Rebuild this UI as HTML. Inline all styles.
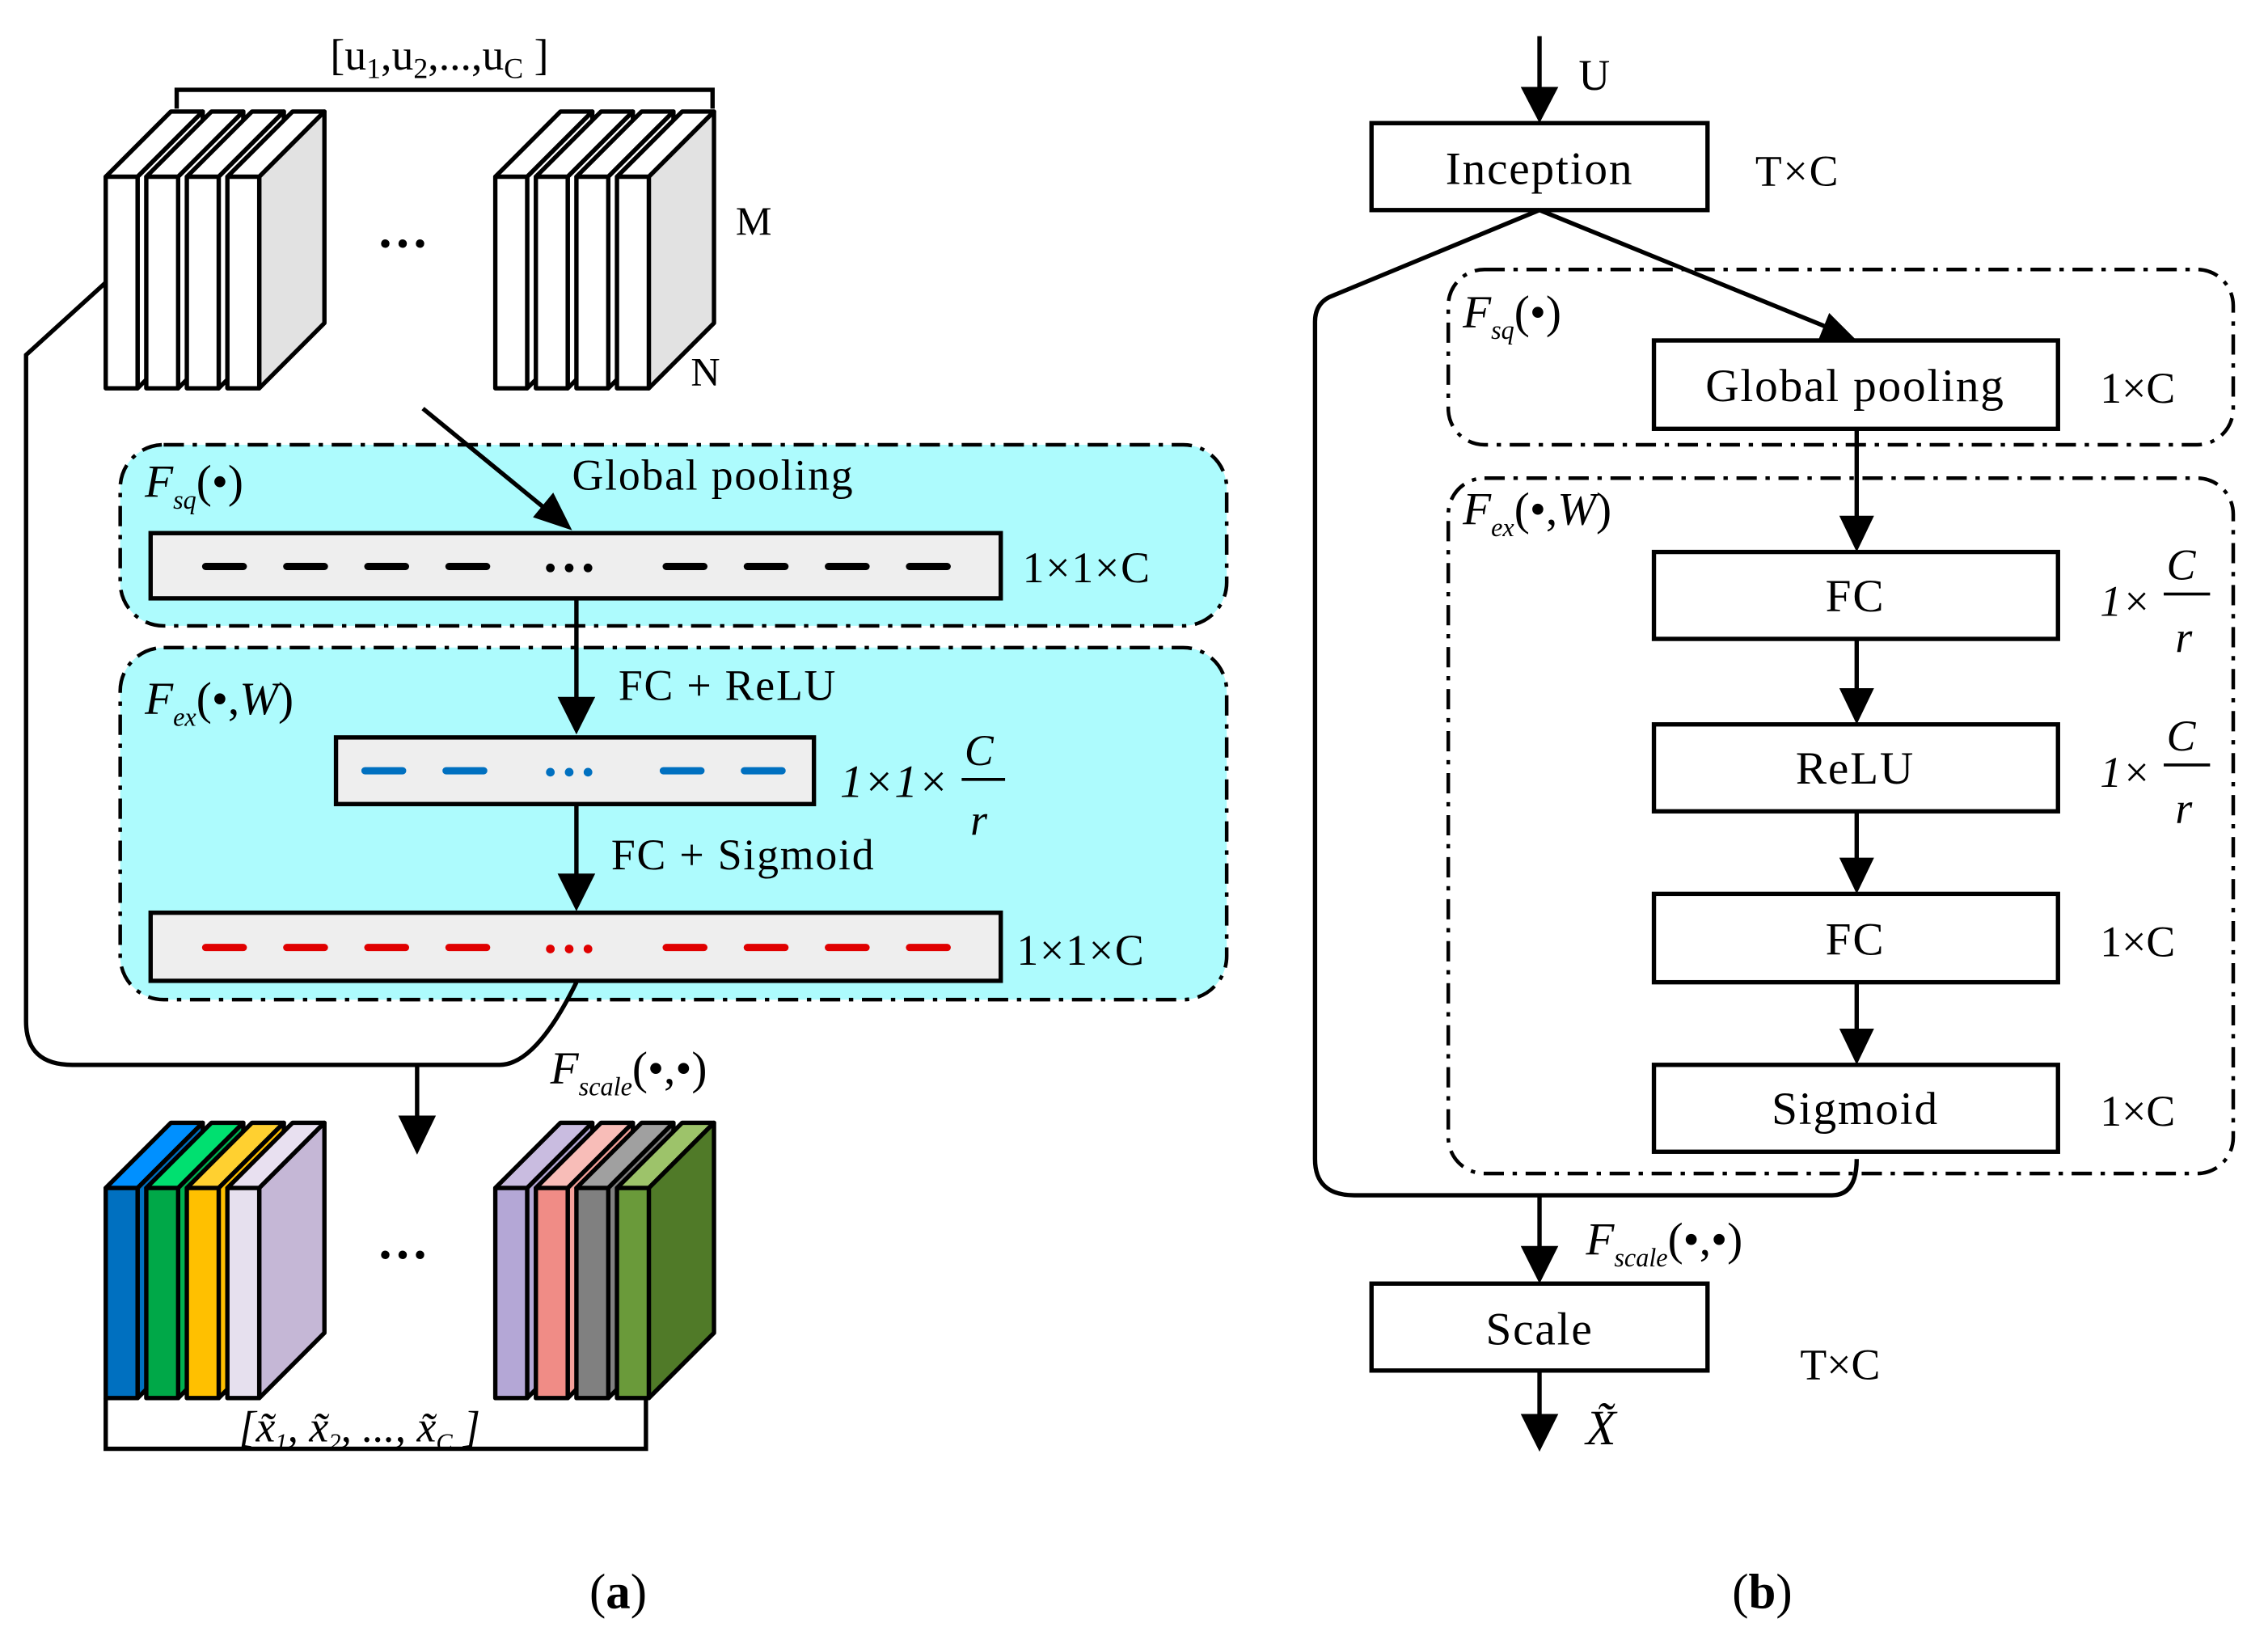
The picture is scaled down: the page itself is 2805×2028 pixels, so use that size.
<!DOCTYPE html>
<html><head><meta charset="utf-8">
<style>
html,body{margin:0;padding:0;background:#fff;}
svg{display:block;}
text{font-family:"Liberation Serif","Noto Serif CJK SC",serif;fill:#000;}
</style></head>
<body>
<svg width="2805" height="2028" viewBox="0 0 1566 1132" preserveAspectRatio="none" xmlns="http://www.w3.org/2000/svg">
<rect width="1566" height="1132" fill="#fff"/>

<!-- ===== LEFT PANEL ===== -->
<path d="M122,75 V62 H492 V75" fill="none" stroke="#000" stroke-width="3"/>
<text x="228" y="48" font-size="30">[u<tspan font-size="20" dy="6">1</tspan><tspan dy="-6">,u</tspan><tspan font-size="20" dy="6">2</tspan><tspan dy="-6">,...,u</tspan><tspan font-size="20" dy="6">C</tspan><tspan dy="-6"> ]</tspan></text>

<g stroke="#000" stroke-width="3" stroke-linejoin="round">
 <polygon points="73,122 118,77 140,77 95,122" fill="#fff"/><polygon points="95,122 140,77 140,223 95,268" fill="#fff"/><rect x="73" y="122" width="22" height="146" fill="#fff"/>
 <polygon points="101,122 146,77 168,77 123,122" fill="#fff"/><polygon points="123,122 168,77 168,223 123,268" fill="#fff"/><rect x="101" y="122" width="22" height="146" fill="#fff"/>
 <polygon points="129,122 174,77 196,77 151,122" fill="#fff"/><polygon points="151,122 196,77 196,223 151,268" fill="#fff"/><rect x="129" y="122" width="22" height="146" fill="#fff"/>
 <polygon points="157,122 202,77 224,77 179,122" fill="#fff"/><polygon points="179,122 224,77 224,223 179,268" fill="#e2e2e2"/><rect x="157" y="122" width="22" height="146" fill="#fff"/>
 <polygon points="342,122 387,77 409,77 364,122" fill="#fff"/><polygon points="364,122 409,77 409,223 364,268" fill="#fff"/><rect x="342" y="122" width="22" height="146" fill="#fff"/>
 <polygon points="370,122 415,77 437,77 392,122" fill="#fff"/><polygon points="392,122 437,77 437,223 392,268" fill="#fff"/><rect x="370" y="122" width="22" height="146" fill="#fff"/>
 <polygon points="398,122 443,77 465,77 420,122" fill="#fff"/><polygon points="420,122 465,77 465,223 420,268" fill="#fff"/><rect x="398" y="122" width="22" height="146" fill="#fff"/>
 <polygon points="426,122 471,77 493,77 448,122" fill="#fff"/><polygon points="448,122 493,77 493,223 448,268" fill="#e2e2e2"/><rect x="426" y="122" width="22" height="146" fill="#fff"/>
</g>
<text x="260" y="180" font-size="36" font-weight="bold">···</text>
<text x="508" y="162" font-size="28">M</text>
<text x="477" y="266" font-size="28">N</text>

<rect x="83" y="307" width="764" height="125" rx="30" fill="#adfbfd" stroke="#000" stroke-width="2.5" stroke-dasharray="14,6,3,6"/>
<rect x="83" y="447" width="764" height="243" rx="30" fill="#adfbfd" stroke="#000" stroke-width="2.5" stroke-dasharray="14,6,3,6"/>
<text x="100" y="343" font-size="32" font-style="italic">F<tspan font-size="18" dy="8">sq</tspan><tspan dy="-8" font-style="normal">(•)</tspan></text>
<text x="100" y="493" font-size="32" font-style="italic">F<tspan font-size="18" dy="8">ex</tspan><tspan dy="-8" font-style="normal">(•,</tspan>W<tspan font-style="normal">)</tspan></text>

<rect x="104" y="368" width="587" height="45" fill="#eeeeee" stroke="#000" stroke-width="3"/>
<g stroke="#000" stroke-width="5" stroke-linecap="round">
 <line x1="142" y1="391" x2="168" y2="391"/><line x1="198" y1="391" x2="224" y2="391"/><line x1="254" y1="391" x2="280" y2="391"/><line x1="310" y1="391" x2="336" y2="391"/>
 <line x1="460" y1="391" x2="486" y2="391"/><line x1="516" y1="391" x2="542" y2="391"/><line x1="572" y1="391" x2="598" y2="391"/><line x1="628" y1="391" x2="654" y2="391"/>
</g>
<g fill="#000"><circle cx="380" cy="392" r="3"/><circle cx="393" cy="392" r="3"/><circle cx="406" cy="392" r="3"/></g>
<text x="395" y="338" font-size="30" letter-spacing="1">Global pooling</text>
<text x="706" y="402" font-size="30" letter-spacing="1">1×1×C</text>

<line x1="292" y1="282" x2="380" y2="354" stroke="#000" stroke-width="3"/>
<polygon points="395,366 368,357 382,340" fill="#000"/>

<line x1="398" y1="413" x2="398" y2="483" stroke="#000" stroke-width="3"/>
<polygon points="385,481 411,481 398,507" fill="#000"/>
<text x="427" y="483" font-size="30" letter-spacing="1">FC + ReLU</text>

<rect x="232" y="509" width="330" height="46" fill="#eeeeee" stroke="#000" stroke-width="3"/>
<g stroke="#0070c0" stroke-width="5" stroke-linecap="round">
 <line x1="252" y1="532" x2="278" y2="532"/><line x1="308" y1="532" x2="334" y2="532"/>
 <line x1="458" y1="532" x2="484" y2="532"/><line x1="514" y1="532" x2="540" y2="532"/>
</g>
<g fill="#0070c0"><circle cx="380" cy="533" r="3"/><circle cx="393" cy="533" r="3"/><circle cx="406" cy="533" r="3"/></g>
<text x="580" y="550" font-size="32" font-style="italic">1×1×</text>
<text x="666" y="528" font-size="30" font-style="italic">C</text>
<line x1="664" y1="538" x2="694" y2="538" stroke="#000" stroke-width="2"/>
<text x="670" y="576" font-size="30" font-style="italic">r</text>

<line x1="398" y1="555" x2="398" y2="605" stroke="#000" stroke-width="3"/>
<polygon points="385,603 411,603 398,629" fill="#000"/>
<text x="422" y="600" font-size="30" letter-spacing="1">FC + Sigmoid</text>

<rect x="104" y="630" width="587" height="47" fill="#eeeeee" stroke="#000" stroke-width="3"/>
<g stroke="#e00000" stroke-width="5" stroke-linecap="round">
 <line x1="142" y1="654" x2="168" y2="654"/><line x1="198" y1="654" x2="224" y2="654"/><line x1="254" y1="654" x2="280" y2="654"/><line x1="310" y1="654" x2="336" y2="654"/>
 <line x1="460" y1="654" x2="486" y2="654"/><line x1="516" y1="654" x2="542" y2="654"/><line x1="572" y1="654" x2="598" y2="654"/><line x1="628" y1="654" x2="654" y2="654"/>
</g>
<g fill="#e00000"><circle cx="380" cy="655" r="3"/><circle cx="393" cy="655" r="3"/><circle cx="406" cy="655" r="3"/></g>
<text x="702" y="666" font-size="30" letter-spacing="1">1×1×C</text>

<path d="M73,195 L18,245 V705 Q18,735 50,735 H345 Q370,735 398,678" fill="none" stroke="#000" stroke-width="3"/>
<line x1="288" y1="735" x2="288" y2="772" stroke="#000" stroke-width="3"/>
<polygon points="275,770 301,770 288,797" fill="#000"/>
<text x="380" y="748" font-size="32" font-style="italic">F<tspan font-size="18" dy="8">scale</tspan><tspan dy="-8" font-style="normal">(•,•)</tspan></text>

<g stroke="#000" stroke-width="3" stroke-linejoin="round">
 <polygon points="73,820 118,775 140,775 95,820" fill="#0090ff"/><polygon points="95,820 140,775 140,920 95,965" fill="#0070c0"/><rect x="73" y="820" width="22" height="145" fill="#0070c0"/>
 <polygon points="101,820 146,775 168,775 123,820" fill="#00e070"/><polygon points="123,820 168,775 168,920 123,965" fill="#00b050"/><rect x="101" y="820" width="22" height="145" fill="#00a848"/>
 <polygon points="129,820 174,775 196,775 151,820" fill="#ffd030"/><polygon points="151,820 196,775 196,920 151,965" fill="#ffc000"/><rect x="129" y="820" width="22" height="145" fill="#ffc000"/>
 <polygon points="157,820 202,775 224,775 179,820" fill="#e8e0f0"/><polygon points="179,820 224,775 224,920 179,965" fill="#c5b7d6"/><rect x="157" y="820" width="22" height="145" fill="#e6e0ee"/>
 <polygon points="342,820 387,775 409,775 364,820" fill="#c9bce0"/><polygon points="364,820 409,775 409,920 364,965" fill="#b4a7d6"/><rect x="342" y="820" width="22" height="145" fill="#b4a7d6"/>
 <polygon points="370,820 415,775 437,775 392,820" fill="#f8bdb8"/><polygon points="392,820 437,775 437,920 392,965" fill="#f4a09a"/><rect x="370" y="820" width="22" height="145" fill="#f08c86"/>
 <polygon points="398,820 443,775 465,775 420,820" fill="#a0a0a0"/><polygon points="420,820 465,775 465,920 420,965" fill="#808080"/><rect x="398" y="820" width="22" height="145" fill="#808080"/>
 <polygon points="426,820 471,775 493,775 448,820" fill="#9dc36a"/><polygon points="448,820 493,775 493,920 448,965" fill="#507a28"/><rect x="426" y="820" width="22" height="145" fill="#6a9a3a"/>
</g>
<text x="260" y="878" font-size="36" font-weight="bold">···</text>
<path d="M73,965 V1000 H446 V965" fill="none" stroke="#000" stroke-width="3"/>
<text x="165" y="995" font-size="30" font-style="italic">[x̃<tspan font-size="17" dy="6">1</tspan><tspan dy="-6">, x̃</tspan><tspan font-size="17" dy="6">2</tspan><tspan dy="-6">, ..., x̃</tspan><tspan font-size="17" dy="6">C</tspan><tspan dy="-6"> ]</tspan></text>
<text x="407" y="1110" font-size="34">(<tspan font-weight="bold">a</tspan>)</text>

<!-- ===== RIGHT PANEL ===== -->
<line x1="1063" y1="25" x2="1063" y2="62" stroke="#000" stroke-width="3"/>
<polygon points="1050,60 1076,60 1063,85" fill="#000"/>
<text x="1090" y="62" font-size="30">U</text>
<rect x="947" y="85" width="232" height="60" fill="#fff" stroke="#000" stroke-width="3"/>
<text x="1063" y="127" font-size="32" text-anchor="middle" letter-spacing="1">Inception</text>
<text x="1212" y="128" font-size="30" letter-spacing="1">T×C</text>

<rect x="1000" y="186" width="542" height="121" rx="25" fill="none" stroke="#000" stroke-width="2.5" stroke-dasharray="14,6,3,6"/>
<rect x="1000" y="330" width="542" height="480" rx="25" fill="none" stroke="#000" stroke-width="2.5" stroke-dasharray="14,6,3,6"/>
<text x="1010" y="226" font-size="32" font-style="italic">F<tspan font-size="18" dy="8">sq</tspan><tspan dy="-8" font-style="normal">(•)</tspan></text>
<text x="1010" y="362" font-size="32" font-style="italic">F<tspan font-size="18" dy="8">ex</tspan><tspan dy="-8" font-style="normal">(•,</tspan>W<tspan font-style="normal">)</tspan></text>

<line x1="1063" y1="145" x2="1262" y2="226" stroke="#000" stroke-width="3"/>
<polygon points="1282,235 1255,236 1263,216" fill="#000"/>
<path d="M1063,145 L918,205 Q908,210 908,222 V800 Q908,825 935,825 H1265 Q1282,825 1282,800" fill="none" stroke="#000" stroke-width="3"/>

<g stroke="#000" stroke-width="3" fill="#fff">
 <rect x="1142" y="235" width="279" height="61"/>
 <rect x="1142" y="381" width="279" height="60"/>
 <rect x="1142" y="500" width="279" height="60"/>
 <rect x="1142" y="617" width="279" height="61"/>
 <rect x="1142" y="735" width="279" height="60"/>
</g>
<text x="1281" y="277" font-size="32" text-anchor="middle" letter-spacing="1">Global pooling</text>
<text x="1281" y="422" font-size="32" text-anchor="middle" letter-spacing="1">FC</text>
<text x="1281" y="541" font-size="32" text-anchor="middle" letter-spacing="1">ReLU</text>
<text x="1281" y="659" font-size="32" text-anchor="middle" letter-spacing="1">FC</text>
<text x="1281" y="776" font-size="32" text-anchor="middle" letter-spacing="1">Sigmoid</text>

<g stroke="#000" stroke-width="3">
 <line x1="1282" y1="296" x2="1282" y2="358"/>
 <line x1="1282" y1="441" x2="1282" y2="477"/>
 <line x1="1282" y1="560" x2="1282" y2="594"/>
 <line x1="1282" y1="678" x2="1282" y2="712"/>
</g>
<g fill="#000">
 <polygon points="1270,356 1294,356 1282,381"/>
 <polygon points="1270,475 1294,475 1282,500"/>
 <polygon points="1270,592 1294,592 1282,617"/>
 <polygon points="1270,710 1294,710 1282,735"/>
</g>
<text x="1450" y="278" font-size="30">1×C</text>
<text x="1450" y="425" font-size="30" font-style="italic">1×</text>
<text x="1496" y="400" font-size="30" font-style="italic">C</text>
<line x1="1494" y1="410" x2="1526" y2="410" stroke="#000" stroke-width="2"/>
<text x="1502" y="450" font-size="30" font-style="italic">r</text>
<text x="1450" y="543" font-size="30" font-style="italic">1×</text>
<text x="1496" y="518" font-size="30" font-style="italic">C</text>
<line x1="1494" y1="528" x2="1526" y2="528" stroke="#000" stroke-width="2"/>
<text x="1502" y="568" font-size="30" font-style="italic">r</text>
<text x="1450" y="660" font-size="30">1×C</text>
<text x="1450" y="777" font-size="30">1×C</text>

<line x1="1063" y1="825" x2="1063" y2="862" stroke="#000" stroke-width="3"/>
<polygon points="1050,860 1076,860 1063,886" fill="#000"/>
<text x="1095" y="866" font-size="32" font-style="italic">F<tspan font-size="18" dy="8">scale</tspan><tspan dy="-8" font-style="normal">(•,•)</tspan></text>
<rect x="947" y="886" width="232" height="60" fill="#fff" stroke="#000" stroke-width="3"/>
<text x="1063" y="928" font-size="32" text-anchor="middle" letter-spacing="1">Scale</text>
<text x="1243" y="952" font-size="30">T×C</text>
<line x1="1063" y1="946" x2="1063" y2="978" stroke="#000" stroke-width="3"/>
<polygon points="1050,976 1076,976 1063,1002" fill="#000"/>
<text x="1095" y="997" font-size="34" font-style="italic">X̃</text>
<text x="1196" y="1110" font-size="34">(<tspan font-weight="bold">b</tspan>)</text>
</svg>
</body></html>
